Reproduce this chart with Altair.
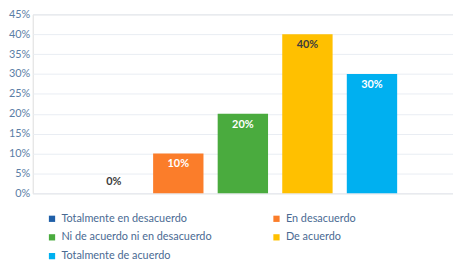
import altair as alt
import pandas as pd

categories = [
    "Totalmente en desacuerdo",
    "En desacuerdo",
    "Ni de acuerdo ni en desacuerdo",
    "De acuerdo",
    "Totalmente de acuerdo",
]
values = [0.0, 0.10, 0.20, 0.40, 0.30]
palette = ["#1f5fa8", "#fb7d2a", "#4aab3e", "#ffc000", "#00b0f0"]
y_ticks = [0, 0.05, 0.10, 0.15, 0.20, 0.25, 0.30, 0.35, 0.40, 0.45]

df = pd.DataFrame({"cat": categories, "val": values})

# legend is filled column by column: order the colour domain so that the
# legend reads row by row like the original
color_of = dict(zip(categories, palette))
legend_order = [categories[i] for i in (0, 2, 4, 1, 3)]
legend_colors = [color_of[c] for c in legend_order]

FONT = "Lato"
AXIS_COLOR = "#5b7ea6"

x = alt.X("cat:N", sort=categories,
          scale=alt.Scale(paddingInner=0.22, paddingOuter=0.865),
          axis=None)
y = alt.Y("val:Q", scale=alt.Scale(domain=[0, 0.45], nice=False),
          axis=alt.Axis(values=y_ticks, format=".0%", title=None,
                        domain=False, ticks=False, labelPadding=3,
                        labelFont=FONT, labelFontSize=11,
                        labelColor=AXIS_COLOR, gridColor="#e9edf3",
                        gridWidth=1))

bars = alt.Chart(df).mark_bar().encode(
    x=x, y=y,
    color=alt.Color("cat:N",
                    scale=alt.Scale(domain=legend_order, range=legend_colors),
                    legend=alt.Legend(
                        title=None, orient="none", legendX=14, legendY=201,
                        columns=2, columnPadding=59, rowPadding=7,
                        symbolType="square", symbolSize=40,
                        symbolStrokeWidth=0, labelOffset=4,
                        labelFont=FONT, labelFontSize=11,
                        labelColor="#4a6a93", labelLimit=300)),
)

label_color = alt.condition(
    "datum.cat === 'De acuerdo' || datum.val === 0",
    alt.value("#3d3d3d"), alt.value("white"))

labels_in = alt.Chart(df).transform_filter("datum.val > 0").mark_text(
    dy=11, font=FONT, fontSize=11, fontWeight="bold", baseline="middle"
).encode(x=x, y=y, text=alt.Text("val:Q", format=".0%"), color=label_color)

labels_zero = alt.Chart(df).transform_filter("datum.val === 0").mark_text(
    dy=-11, font=FONT, fontSize=11, fontWeight="bold", baseline="middle"
).encode(x=x, y=y, text=alt.Text("val:Q", format=".0%"), color=label_color)

chart = alt.layer(bars, labels_in, labels_zero).properties(
    width=425, height=181,
    autosize=alt.AutoSizeParams(type="none"),
    padding={"left": 25, "top": 5, "right": 0, "bottom": 66},
).configure_view(stroke=None).configure(background="white")

chart.save("out.html", embed_options={"renderer": "svg", "actions": False})
